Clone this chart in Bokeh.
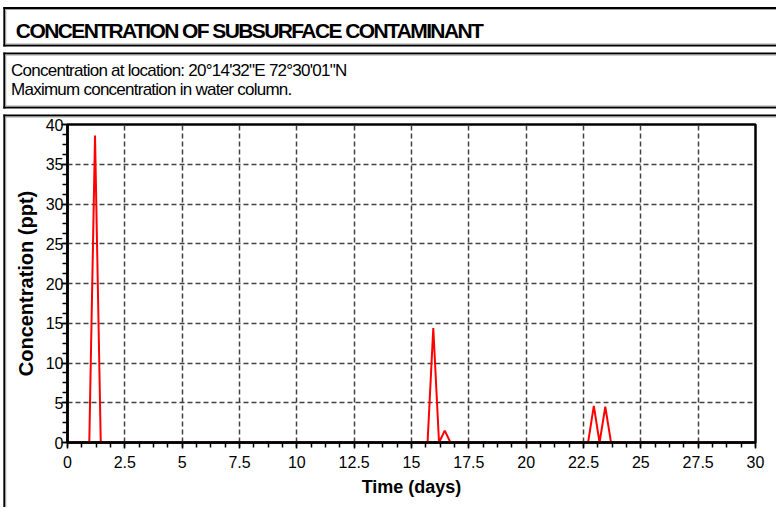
from bokeh.plotting import figure
from bokeh.layouts import column
from bokeh.models import Range1d, Label, SingleIntervalTicker
from bokeh.embed import file_html
from bokeh.resources import INLINE

# ---- data ----
time_days = [0, 0.95, 1.2, 1.45, 15.7, 15.95, 16.2, 16.45, 16.7,
             22.7, 22.95, 23.2, 23.45, 23.7, 30]
conc_ppt = [0, 0, 38.6, 0, 0, 14.4, 0, 1.5, 0,
            0, 4.6, 0, 4.5, 0, 0]
x_ticks = [0, 2.5, 5, 7.5, 10, 12.5, 15, 17.5, 20, 22.5, 25, 27.5, 30]
x_tick_labels = ["0", "2.5", "5", "7.5", "10", "12.5", "15", "17.5", "20",
                 "22.5", "25", "27.5", "30"]
y_ticks = [0, 5, 10, 15, 20, 25, 30, 35, 40]
y_tick_labels = ["0", "5", "10", "15", "20", "25", "30", "35", "40"]
title_text = "CONCENTRATION OF SUBSURFACE CONTAMINANT"
subtitle_lines = ["Concentration at location: 20\u00b014'32\"E 72\u00b030'01\"N",
                  "Maximum concentration in water column."]
x_label = "Time (days)"
y_label = "Concentration (ppt)"

W, H = 776, 507
WB = 810  # backdrop strips are wider than the page and clipped by their wrapper
SANS = "Liberation Sans"


def backdrop(y_top, y_bottom, spacing):
    """Figure whose data coordinates are page pixels (y downwards)."""
    f = figure(width=WB, height=y_bottom - y_top, output_backend="svg",
               toolbar_location=None,
               x_range=Range1d(0, WB), y_range=Range1d(y_bottom, y_top),
               x_axis_type=None, y_axis_type=None, min_border=0,
               background_fill_color="white", border_fill_color="white",
               outline_line_color=None, styles={"letter-spacing": spacing})
    f.xgrid.visible = False
    f.ygrid.visible = False
    return f


def open_box(f, left, top, bottom):
    """Box with black border plus thin grey inner shadow; right edge off page."""
    for color, width, d in (("black", 2, 0), ("#a0a0a0", 1, 1.5)):
        x0, y0, y1 = left + d, top + d, bottom - d
        h = width / 2
        f.line(x=[x0 - h, WB + 10], y=[y0, y0], line_color=color, line_width=width)
        f.line(x=[x0 - h, WB + 10], y=[y1, y1], line_color=color, line_width=width)
        f.line(x=[x0, x0], y=[y0 - h, y1 + h], line_color=color, line_width=width)


# --- title strip: page y 0..49 ---
f1 = backdrop(0, 49, "-1.6px")
open_box(f1, 4, 7.5, 45)
f1.add_layout(Label(x=16, y=29.5, text=title_text,
                    text_font=SANS, text_font_size="21px", text_font_style="bold",
                    text_color="black", text_baseline="alphabetic", text_align="left"))

# --- rest of the page: page y 49..507 ---
f2 = backdrop(49, H, "-0.75px")
open_box(f2, 4, 53, 107)
open_box(f2, 4, 115, 540)
f2.add_layout(Label(x=11, y=69.5, text=subtitle_lines[0],
                    text_font=SANS, text_font_size="17px",
                    text_color="black", text_baseline="alphabetic", text_align="left"))
f2.add_layout(Label(x=11, y=89, text=subtitle_lines[1],
                    text_font=SANS, text_font_size="17px",
                    text_color="black", text_baseline="alphabetic", text_align="left"))

back = column(f1, f2, width=W, height=H, spacing=0, sizing_mode="fixed",
              styles={"overflow": "hidden"})

# --- chart, laid over the third box: page y 111..507 ---
p = figure(width=W, height=396, output_backend="svg", toolbar_location=None,
           x_range=Range1d(0, 30), y_range=Range1d(0, 40),
           min_border_left=67, min_border_right=21,
           min_border_top=13, min_border_bottom=65,
           background_fill_color="white", border_fill_color="white",
           border_fill_alpha=0,
           styles={"position": "absolute", "left": "0px", "top": "111px"})

p.line(time_days, conc_ppt, line_color="#ff0000", line_width=2)

p.xaxis.ticker = SingleIntervalTicker(interval=2.5, num_minor_ticks=4)
p.yaxis.ticker = SingleIntervalTicker(interval=5, num_minor_ticks=4)
p.xaxis.major_label_overrides = dict(zip(x_ticks, x_tick_labels))
p.yaxis.major_label_overrides = dict(zip(y_ticks, y_tick_labels))
for ax in (p.xaxis[0], p.yaxis[0]):
    ax.axis_line_width = 2.5
    ax.axis_line_color = "black"
    ax.major_tick_in = 0
    ax.major_tick_out = 6
    ax.minor_tick_in = 0
    ax.minor_tick_out = 5
    ax.major_tick_line_width = 1.5
    ax.minor_tick_line_width = 1.5
    ax.major_tick_line_color = "black"
    ax.minor_tick_line_color = "black"
    ax.major_label_text_font = SANS
    ax.major_label_text_font_size = "16px"
    ax.major_label_text_color = "black"
    ax.axis_label_text_font = SANS
    ax.axis_label_text_font_style = "bold"
    ax.axis_label_text_color = "black"
p.xaxis.axis_label = x_label
p.yaxis.axis_label = y_label
p.xaxis.axis_label_text_font_size = "18px"
p.yaxis.axis_label_text_font_size = "20px"
p.xaxis.major_label_standoff = 7
p.yaxis.major_label_standoff = -2
p.xaxis.axis_label_standoff = 6
p.yaxis.axis_label_standoff = 6

for g in (p.xgrid[0], p.ygrid[0]):
    g.grid_line_color = "#404040"
    g.grid_line_dash = "5 3"
    g.grid_line_width = 1.5

p.outline_line_color = "black"
p.outline_line_width = 2.5
p.outline_line_alpha = 1

open("out.html", "w").write(file_html([back, p], INLINE))
